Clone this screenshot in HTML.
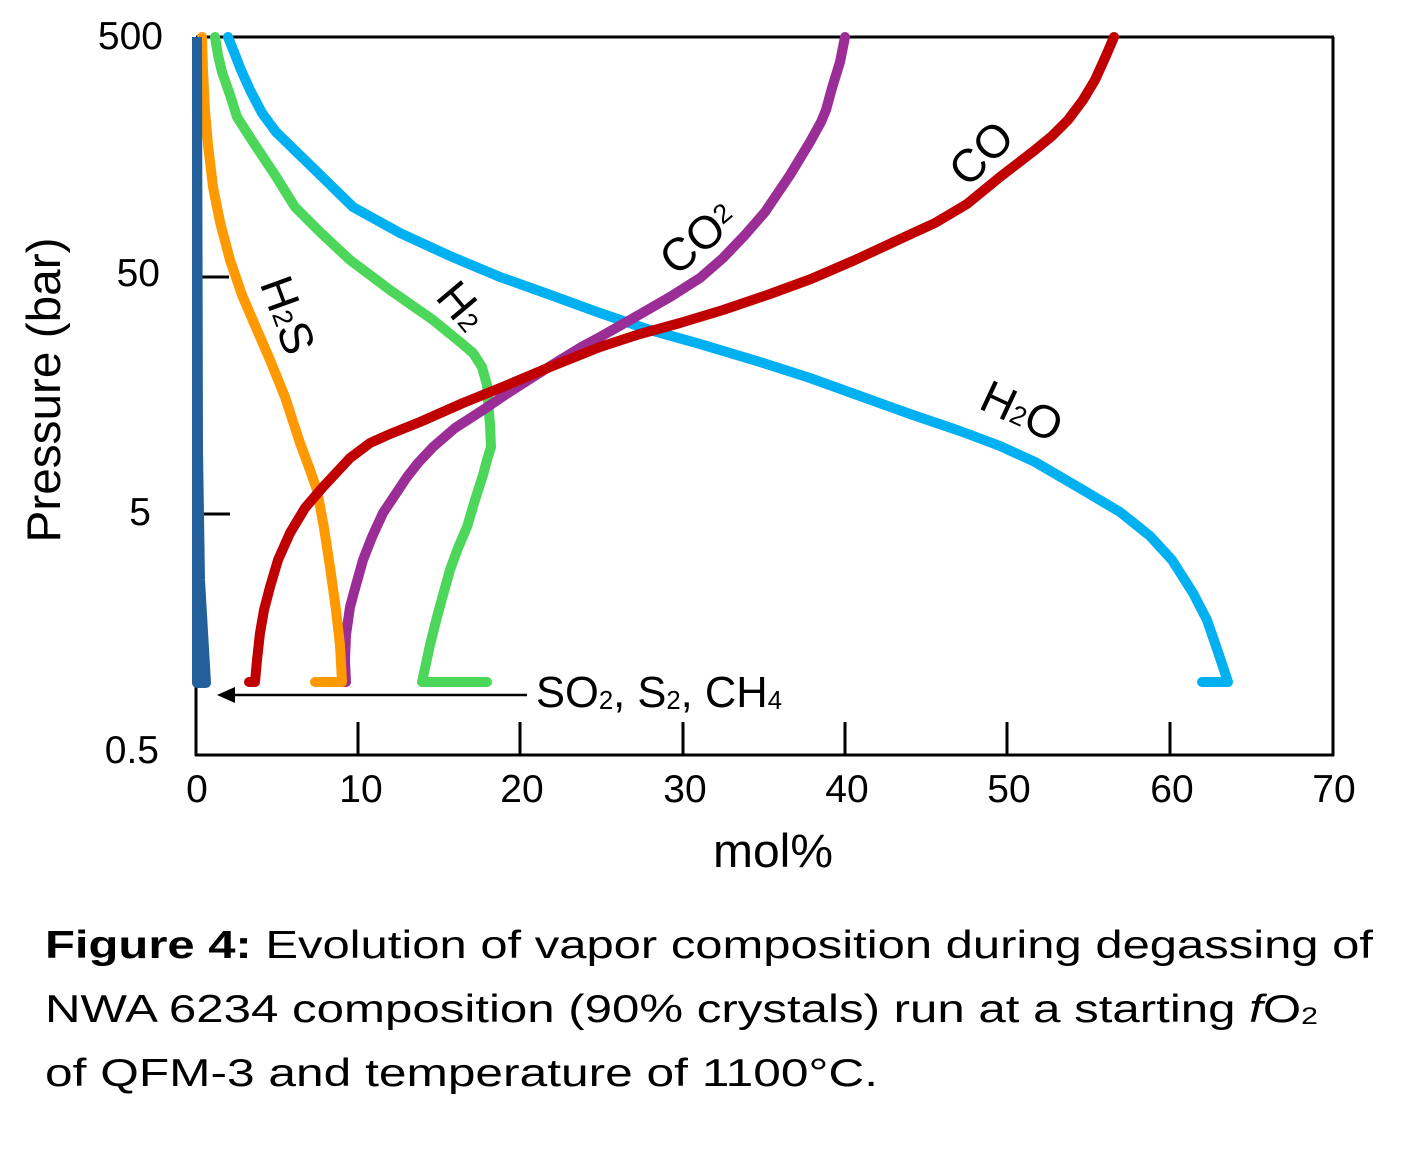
<!DOCTYPE html>
<html>
<head>
<meta charset="utf-8">
<style>
  html,body{margin:0;padding:0;background:#fff;}
  svg{display:block;}
  text{font-family:"Liberation Sans",Arial,sans-serif;fill:#000;}
</style>
</head>
<body>
<svg width="1412" height="1170" viewBox="0 0 1412 1170" xmlns="http://www.w3.org/2000/svg">
  <rect x="0" y="0" width="1412" height="1170" fill="#fff"/>

  <!-- Axes frame -->
  <g stroke="#000" stroke-width="3" fill="none">
    <line x1="196" y1="37" x2="1334" y2="37"/>
    <line x1="1333" y1="37" x2="1333" y2="756"/>
    <line x1="195" y1="755" x2="1334" y2="755"/>
    <line x1="196" y1="37" x2="196" y2="756"/>
    <!-- x ticks -->
    <line x1="358" y1="722" x2="358" y2="755"/>
    <line x1="520" y1="722" x2="520" y2="755"/>
    <line x1="683" y1="722" x2="683" y2="755"/>
    <line x1="845" y1="722" x2="845" y2="755"/>
    <line x1="1007" y1="722" x2="1007" y2="755"/>
    <line x1="1170" y1="722" x2="1170" y2="755"/>
    <!-- y ticks -->
    <line x1="196" y1="277" x2="229" y2="277"/>
    <line x1="196" y1="514" x2="230" y2="514"/>
  </g>

  <!-- Y tick labels -->
  <g font-size="39">
    <text x="163" y="49" text-anchor="end">500</text>
    <text x="160" y="286" text-anchor="end">50</text>
    <text x="151" y="525" text-anchor="end">5</text>
    <text x="159" y="763" text-anchor="end">0.5</text>
  </g>
  <!-- X tick labels -->
  <g font-size="39" text-anchor="middle">
    <text x="197" y="802">0</text>
    <text x="361" y="802">10</text>
    <text x="522" y="802">20</text>
    <text x="685" y="802">30</text>
    <text x="847" y="802">40</text>
    <text x="1009" y="802">50</text>
    <text x="1172" y="802">60</text>
    <text x="1334" y="802">70</text>
  </g>

  <!-- Axis titles -->
  <text x="773" y="867" font-size="47" text-anchor="middle" textLength="120" lengthAdjust="spacingAndGlyphs">mol%</text>
  <text transform="translate(60,390) rotate(-90)" font-size="47" text-anchor="middle" textLength="305" lengthAdjust="spacingAndGlyphs">Pressure (bar)</text>

  <!-- Curves -->
  <g fill="none" stroke-width="10" stroke-linecap="round" stroke-linejoin="round">
    <!-- H2O -->
    <polyline stroke="#00B0F0" points="228,37 234,52 241,70 250,90 262,113 276,132 310,165 353,207 400,233 450,256 500,277 545,293 600,313 650,330 700,344 760,362 810,378 860,396 910,414 960,431 1000,446 1035,462 1083,490 1120,512 1150,536 1172,560 1193,593 1207,620 1218,652 1228,682 1202,682"/>
    <!-- H2 -->
    <polyline stroke="#4CD65A" points="215,37 218,55 222,72 230,95 237,117 255,145 275,175 295,207 320,232 350,260 390,290 433,320 460,342 473,353 482,367 487,385 488,400 490,425 491,447 487,460 483,475 475,500 467,527 458,548 450,570 443,595 437,617 430,645 422,682 487,682"/>
    <!-- CO2 -->
    <polyline stroke="#9B2D96" points="845,37 840,62 832,88 826,110 821,122 810,142 790,175 765,212 745,235 723,258 700,278 670,297 630,320 600,337 583,346 560,360 533,377 505,395 483,410 455,428 433,447 418,463 407,477 395,495 383,513 372,537 363,560 356,585 350,607 346,635 345,660 346,682 338,682"/>
    <!-- H2S -->
    <polyline stroke="#FF9900" points="202,37 203,70 205,110 208,145 213,187 220,222 230,260 242,295 257,330 270,360 285,397 300,443 310,470 317,490 324,528 330,567 336,610 340,645 342,682 315,682"/>
    <!-- CO -->
    <polyline stroke="#C00000" points="1114,37 1105,58 1095,80 1083,100 1068,120 1052,136 1035,150 1000,177 967,204 935,223 898,240 855,260 811,279 770,294 723,310 680,323 640,334 600,347 550,367 505,386 463,403 420,422 390,434 370,443 350,458 323,487 305,508 290,533 278,560 270,587 264,610 260,633 257,660 255,682 249,682"/>
    <!-- SO2, S2, CH4 (dark blue) -->
    <path stroke="#23609B" stroke-linecap="butt" d="M197,37 L197,683 L206,683 L200,580 L198,450 L197,37"/>
  </g>

  <!-- Arrow -->
  <line x1="527" y1="695" x2="232" y2="695" stroke="#000" stroke-width="2.5"/>
  <polygon points="217,695 235,687 235,703" fill="#000"/>
  <text x="536" y="707" font-size="44" textLength="246" lengthAdjust="spacingAndGlyphs">SO<tspan font-size="26" dy="2">2</tspan><tspan dy="-2">, S</tspan><tspan font-size="26" dy="2">2</tspan><tspan dy="-2">, CH</tspan><tspan font-size="26" dy="2">4</tspan></text>

  <!-- Curve labels -->
  <g font-size="46" text-anchor="middle" dominant-baseline="central">
    <text transform="translate(288,315) rotate(70)">H<tspan font-size="27" dy="6">2</tspan><tspan dy="-6">S</tspan></text>
    <text transform="translate(462,306) rotate(50)">H<tspan font-size="27" dy="6">2</tspan></text>
    <text transform="translate(698,238) rotate(-40)">CO<tspan font-size="27" dy="-3">2</tspan></text>
    <text transform="translate(981,153) rotate(-45)">CO</text>
    <text transform="translate(1022,411) rotate(25)">H<tspan font-size="27" dy="6">2</tspan><tspan dy="-6">O</tspan></text>
  </g>

  <!-- Caption -->
  <g font-size="39">
    <text x="45" y="958" textLength="1328" lengthAdjust="spacingAndGlyphs"><tspan font-weight="bold">Figure 4:</tspan> Evolution of vapor composition during degassing of</text>
    <text x="45" y="1022" textLength="1273" lengthAdjust="spacingAndGlyphs">NWA 6234 composition (90% crystals) run at a starting <tspan font-style="italic">f</tspan>O<tspan font-size="24" dy="2">2</tspan></text>
    <text x="45" y="1086" textLength="833" lengthAdjust="spacingAndGlyphs">of QFM-3 and temperature of 1100°C.</text>
  </g>
</svg>
</body>
</html>
